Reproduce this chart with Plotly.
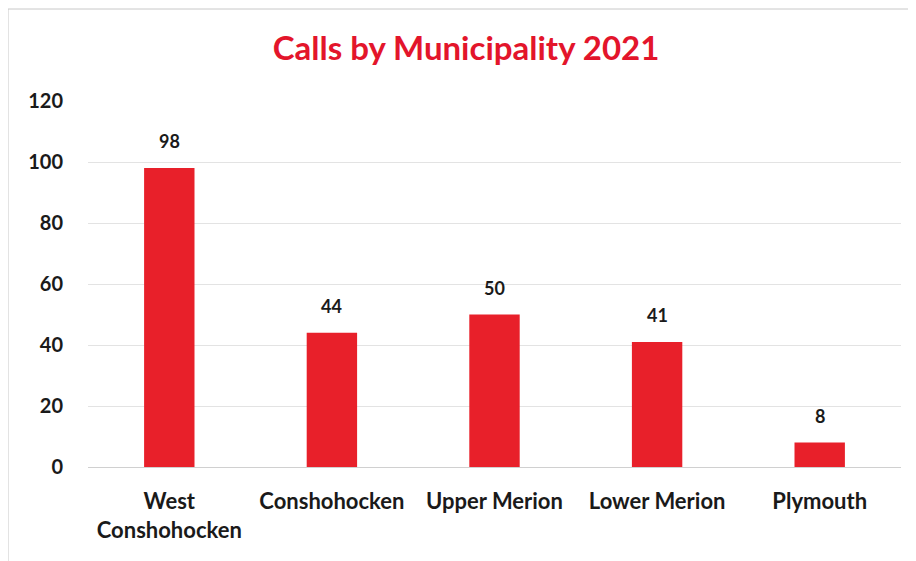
import plotly.graph_objects as go

categories = ["West<br>Conshohocken", "Conshohocken", "Upper Merion", "Lower Merion", "Plymouth"]
calls = [98, 44, 50, 41, 8]
y_ticks = [0, 20, 40, 60, 80, 100, 120]

FONT = "Lato, 'Open Sans', sans-serif"

fig = go.Figure(go.Bar(
    x=categories, y=calls,
    marker=dict(color="#e8202a", line=dict(color="#e8202a", width=0)),
    width=0.31,
    cliponaxis=False,
))

for c, v in zip(categories, calls):
    fig.add_annotation(x=c, y=v, text=f"<b>{v}</b>", showarrow=False,
                       yanchor="bottom", yshift=14,
                       font=dict(family=FONT, size=18, color="#1a1a1a"))

fig.update_layout(
    width=916, height=561,
    paper_bgcolor="white", plot_bgcolor="white",
    margin=dict(l=80, r=23, t=93, b=102),
    title=dict(text="<b>Calls by Municipality 2021</b>", x=0.5, xanchor="center",
               y=1 - 40 / 561, yanchor="middle",
               font=dict(family=FONT, size=33, color="#e3152b")),
    showlegend=False,
    bargap=0.69,
    xaxis=dict(showgrid=False, showline=True, linecolor="#d0d0d0", linewidth=1,
               tickfont=dict(family=FONT, size=22, color="#1a1a1a", weight="bold"),
               ticks="", ticklabelstandoff=15),
    yaxis=dict(range=[0, 120], tickvals=y_ticks, showgrid=True, gridcolor="#e3e3e3",
               zeroline=False, showline=False, ticks="",
               tickfont=dict(family=FONT, size=20, color="#1a1a1a", weight="bold"),
               ticklabelstandoff=24),
    shapes=[dict(type="rect", xref="paper", yref="paper",
                 x0=-80 / 813, x1=1.05, y0=-0.4, y1=1 + 92 / 366,
                 line=dict(color="#c8c8c8", width=1), fillcolor="rgba(0,0,0,0)")],
)

fig.write_html("out.html")
